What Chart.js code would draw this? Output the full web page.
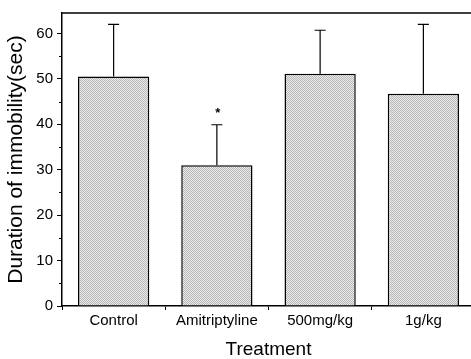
<!DOCTYPE html>
<html>
<head>
<meta charset="utf-8">
<script src="https://cdn.jsdelivr.net/npm/chart.js@4/dist/chart.umd.min.js"></script>
<style>
  html, body { margin: 0; padding: 0; background: #fff; overflow: hidden; }
  #wrap { width: 480px; height: 359px; }
</style>
</head>
<body>
<div id="wrap"><canvas id="c" width="480" height="359"></canvas></div>
<script>
const categories = ['Control', 'Amitriptyline', '500mg/kg', '1g/kg'];
const means = [50.5, 31.0, 51.1, 46.7];
const errors = [11.5, 8.9, 9.6, 15.3];
const significance = ['', '*', '', ''];
const yTicks = [0, 10, 20, 30, 40, 50, 60];
const yMinorTicks = [5, 15, 25, 35, 45, 55];

const FONT = "'Liberation Sans', Arial, sans-serif";

// stipple pattern for bars
function makePattern() {
  const pc = document.createElement('canvas');
  pc.width = 2; pc.height = 2;
  const g = pc.getContext('2d');
  g.fillStyle = '#ececec'; g.fillRect(0, 0, 2, 2);
  g.fillStyle = '#b6b6b6'; g.fillRect(0, 0, 1, 1); g.fillRect(1, 1, 1, 1);
  return document.getElementById('c').getContext('2d').createPattern(pc, 'repeat');
}

const extras = {
  id: 'extras',
  afterDatasetsDraw(chart) {
    const ctx = chart.ctx;
    const y = chart.scales.y;
    const meta = chart.getDatasetMeta(0);
    const area = chart.chartArea;
    ctx.save();
    // top frame line
    ctx.strokeStyle = '#000';
    ctx.lineWidth = 1.5;
    ctx.beginPath();
    ctx.moveTo(area.left, area.top);
    ctx.lineTo(area.right, area.top);
    ctx.stroke();
    // minor ticks
    ctx.lineWidth = 1;
    yMinorTicks.forEach(v => {
      const py = Math.round(y.getPixelForValue(v)) + 0.5;
      ctx.beginPath();
      ctx.moveTo(area.left - 3, py);
      ctx.lineTo(area.left, py);
      ctx.stroke();
    });
    // error bars
    meta.data.forEach((bar, i) => {
      const x = bar.x;
      const yTop = y.getPixelForValue(means[i] + errors[i]);
      const yBase = y.getPixelForValue(means[i]);
      ctx.strokeStyle = '#000';
      ctx.lineWidth = 1.2;
      ctx.beginPath();
      ctx.moveTo(x, yBase);
      ctx.lineTo(x, yTop);
      ctx.moveTo(x - 5.5, yTop);
      ctx.lineTo(x + 5.5, yTop);
      ctx.stroke();
      if (significance[i]) {
        ctx.fillStyle = '#000';
        ctx.font = "bold 13px " + FONT;
        ctx.textAlign = 'center';
        ctx.textBaseline = 'middle';
        ctx.fillText(significance[i], x + 1, yTop - 11);
      }
    });
    ctx.restore();
  }
};

new Chart(document.getElementById('c'), {
  type: 'bar',
  data: {
    labels: categories,
    datasets: [{
      data: means,
      backgroundColor: makePattern(),
      borderColor: '#000',
      borderWidth: 1.5,
      borderSkipped: 'bottom',
      categoryPercentage: 1.0,
      barPercentage: 0.69
    }]
  },
  plugins: [extras],
  options: {
    responsive: false,
    animation: false,
    layout: { padding: { left: 0, right: 5, top: 12, bottom: 0 } },
    plugins: { legend: { display: false }, tooltip: { enabled: false } },
    scales: {
      x: {
        offset: true,
        grid: { offset: true, drawOnChartArea: false, tickLength: 4, color: '#000', lineWidth: 1 },
        border: { color: '#000', width: 1.5 },
        ticks: { color: '#000', font: { family: FONT, size: 15 }, padding: 2, maxRotation: 0 },
        title: { display: true, text: 'Treatment', color: '#000', font: { family: FONT, size: 19, lineHeight: 1.0 }, padding: { top: 0, bottom: 0 } },
        afterFit(scale) { scale.height = 53; }
      },
      y: {
        min: 0,
        max: 64.5,
        afterBuildTicks(scale) { scale.ticks = yTicks.map(v => ({ value: v })); },
        grid: { drawOnChartArea: false, tickLength: 5, color: '#000', lineWidth: 1 },
        border: { color: '#000', width: 1.5 },
        ticks: { color: '#000', font: { family: FONT, size: 15 }, padding: 4 },
        title: { display: true, text: 'Duration of immobility(sec)', color: '#000', font: { family: FONT, size: 21 }, padding: { top: 4, bottom: 0 } },
        afterFit(scale) { scale.width = 62; }
      }
    }
  }
});
</script>
</body>
</html>
